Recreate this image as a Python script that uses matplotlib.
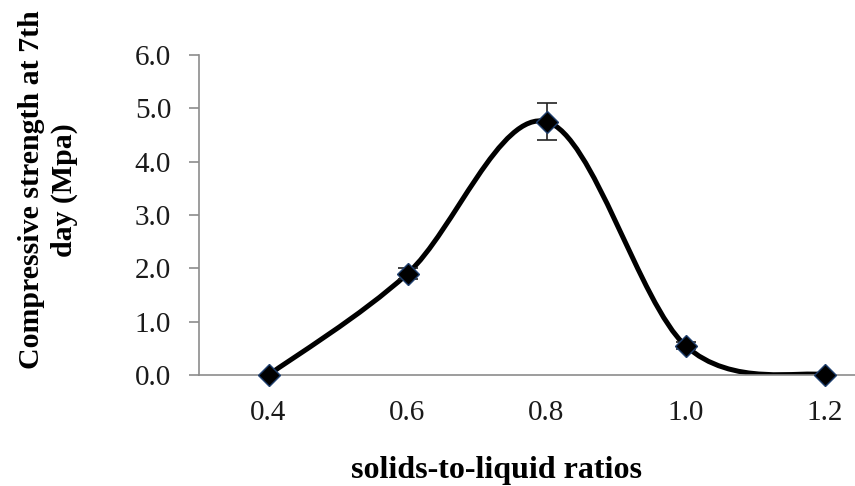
import matplotlib
matplotlib.use("Agg")
from matplotlib import pyplot as plt
from matplotlib.path import Path
from matplotlib.patches import PathPatch
import numpy as np

# solids-to-liquid ratio vs 7th day compressive strength
ratios   = [0.4, 0.6, 0.8, 1.0, 1.2]
strength = [0.0, 1.9, 4.75, 0.55, 0.0]
errors   = [0.0, 0.1, 0.35, 0.06, 0.0]
yticks   = [0, 1, 2, 3, 4, 5, 6]

plt.rcParams['font.family'] = ['Liberation Serif', 'DejaVu Serif']

fig = plt.figure(figsize=(8.55, 4.86), dpi=100)
# axes runs past the right edge, like the cropped original
ax = fig.add_axes([199/855, 111/486, 695/855, 320/486])

def excel_smooth(xs, ys):
    """Bezier path through the points, Excel style smoothing"""
    pts = np.column_stack([xs, ys])
    n = len(pts)
    verts = [pts[0]]
    codes = [Path.MOVETO]
    for i in range(n - 1):
        p_prev = pts[max(i - 1, 0)]
        p0 = pts[i]
        p1 = pts[i + 1]
        p_next = pts[min(i + 2, n - 1)]
        c1 = p0 + (p1 - p_prev) / 6.0
        c2 = p1 - (p_next - p0) / 6.0
        verts += [c1, c2, p1]
        codes += [Path.CURVE4] * 3
    return Path(verts, codes)

ax.add_patch(PathPatch(excel_smooth(ratios, strength), fill=False,
                       edgecolor='black', lw=3.6, capstyle='round',
                       joinstyle='round', zorder=2))

ax.errorbar(ratios, strength, yerr=errors, fmt='none', ecolor='#222222',
            elinewidth=1.2, capsize=7, capthick=1.2, zorder=3)
ax.plot(ratios, strength, ls='none', marker='D', ms=11, mfc='black',
        mec='#1f3f6e', mew=1.0, zorder=4, clip_on=False)

ax.set_xlim(0.3, 1.3)
ax.set_ylim(0, 6)
ax.set_xticks(ratios)
ax.set_xticklabels(['%.1f' % r for r in ratios])
ax.set_yticks(yticks)
ax.set_yticklabels(['%.1f' % t for t in yticks])

for s in ['top', 'right']:
    ax.spines[s].set_visible(False)
for s in ['left', 'bottom']:
    ax.spines[s].set_color('#8c8c8c')
    ax.spines[s].set_linewidth(1.2)

ax.tick_params(axis='y', direction='out', length=7, width=1.2,
               color='#8c8c8c', pad=13, labelsize=21, labelcolor='#1a1a1a')
ax.tick_params(axis='x', length=0, pad=18, labelsize=21,
               labelcolor='#1a1a1a')

fig.text(496/855, 1 - 470/486, 'solids-to-liquid ratios', ha='center',
         va='center', fontsize=23, fontweight='bold')
fig.text(48/855, 1 - 190/486, 'Compressive strength at 7th\nday (Mpa)',
         ha='center', va='center', rotation=90, fontsize=21.5,
         fontweight='bold', linespacing=1.3, multialignment='center')

fig.savefig('out.png', dpi=100)
